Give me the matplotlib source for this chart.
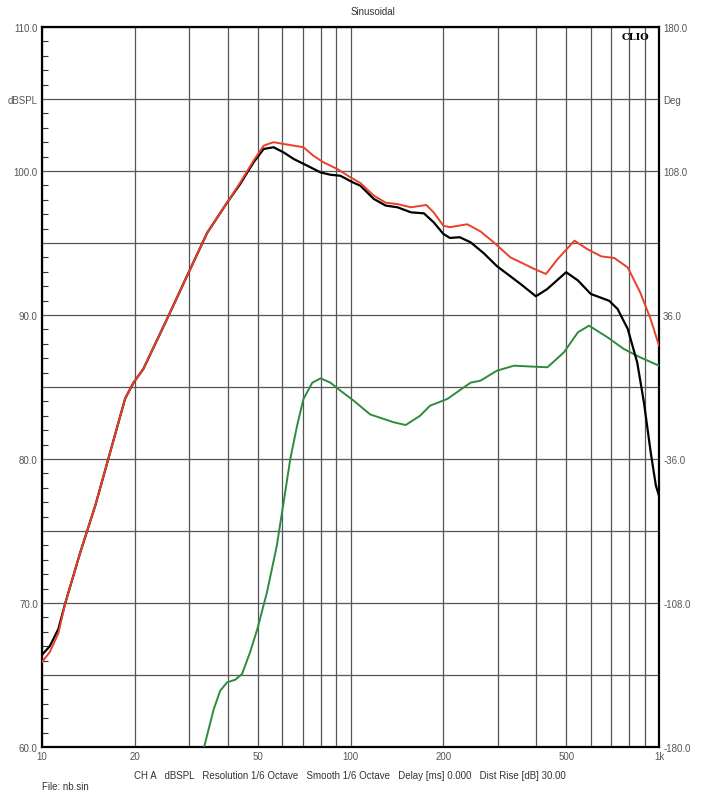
import matplotlib
matplotlib.use("Agg")
import matplotlib.pyplot as plt
from matplotlib.ticker import FixedLocator, NullFormatter

plt.rcParams['font.family'] = ['Liberation Sans', 'DejaVu Sans']

# frequency (Hz) / level (dB SPL)
black_f = [10, 10.6, 11.3, 11.9, 13.3, 14.9, 16.4, 18.6, 19.8, 21.3, 25.4, 29.5, 34.3, 39.8, 43.9,
           48.5, 52.3, 56.3, 60.6, 65.5, 72.4, 80, 86.1, 92.7, 102, 107.6, 119, 130, 142, 157, 173,
           186, 200, 210, 226, 245, 270, 298, 356, 399, 434, 500, 546, 601, 689, 734, 792, 850,
           894, 940, 977, 1000]
black_db = [66.4, 67.0, 68.2, 70.0, 73.5, 76.8, 80.0, 84.2, 85.3, 86.25, 89.7, 92.7, 95.7, 97.8, 99.1,
            100.6, 101.53, 101.65, 101.3, 100.83, 100.37, 99.9, 99.74, 99.67, 99.2, 98.98, 98.06, 97.6, 97.48, 97.13, 97.06,
            96.44, 95.63, 95.35, 95.4, 95.05, 94.3, 93.4, 92.15, 91.3, 91.8, 92.97, 92.4, 91.46, 90.99, 90.42, 89.03, 86.7,
            83.9, 80.46, 78.15, 77.45]

red_f = [10, 10.6, 11.3, 11.9, 13.3, 14.9, 16.4, 18.6, 19.8, 21.3, 25.4, 29.5, 34.3, 39.8, 43.9,
         48.5, 52.3, 56.3, 60.6, 65.5, 70.4, 75.8, 81.8, 90.6, 100, 107.6, 119, 130, 142, 157, 176,
         186, 200, 210, 239, 264, 291, 330, 394, 430, 470, 532, 585, 650, 716, 792, 869, 940, 1000]
red_db = [65.9, 66.6, 67.9, 70.0, 73.5, 76.8, 80.0, 84.2, 85.3, 86.25, 89.7, 92.7, 95.7, 97.8, 99.2,
          100.72, 101.76, 102.0, 101.88, 101.76, 101.65, 101.06, 100.6, 100.14, 99.56, 99.17, 98.29, 97.8, 97.7, 97.48, 97.64,
          97.13, 96.2, 96.1, 96.3, 95.8, 95.05, 94.0, 93.2, 92.85, 93.9, 95.16, 94.58, 94.07, 93.96, 93.3, 91.57, 89.7, 87.87]

green_f = [33.0, 36.0, 37.8, 39.8, 42.3, 44.5, 47.3, 49.9, 53.6, 57.7, 60.7, 63.8, 67.1, 70.4, 75.2,
           80, 86.1, 92.7, 102.4, 115.7, 138, 151, 168, 181, 206, 245, 264, 298, 339, 394, 435, 492,
           546, 593, 681, 769, 869, 1000]
green_db = [59.4, 62.6, 63.9, 64.49, 64.67, 65.07, 66.6, 68.2, 70.74, 73.98, 77.0, 80.0, 82.3, 84.17, 85.3,
            85.6, 85.3, 84.75, 84.05, 83.1, 82.55, 82.36, 83.0, 83.7, 84.17, 85.3, 85.44, 86.13, 86.48, 86.41, 86.37, 87.41,
            88.8, 89.26, 88.45, 87.64, 87.06, 86.48]

grid_f = [10, 20, 30, 40, 50, 60, 70, 80, 90, 100, 200, 300, 400, 500, 600, 700, 800, 900, 1000]
xlabels = {10: '10', 20: '20', 50: '50', 100: '100', 200: '200', 500: '500', 1000: '1k'}
left_ticks = [60, 65, 70, 75, 80, 85, 90, 95, 100, 105, 110]
left_labels = ['60.0', '', '70.0', '', '80.0', '', '90.0', '', '100.0', 'dBSPL', '110.0']
right_ticks = [-180, -108, -36, 36, 108, 144, 180]
right_labels = ['-180.0', '-108.0', '-36.0', '36.0', '108.0', 'Deg', '180.0']

fig = plt.figure(figsize=(7.05, 8.04), dpi=100)
ax = fig.add_axes([42/705, 1-748/804, 617/705, 720/804])

ax.plot(green_f, green_db, color='#2f8a3f', lw=1.4, zorder=3)
ax.plot(black_f, black_db, color='black', lw=1.6, zorder=4)
ax.plot(red_f, red_db, color='#e8402a', lw=1.4, zorder=5)

ax.set_xscale('log')
ax.set_xlim(10, 1000)
ax.set_ylim(60, 110)

tc = '#555555'
ax.xaxis.set_major_locator(FixedLocator(grid_f))
ax.set_xticklabels([xlabels.get(f, '') for f in grid_f])
ax.xaxis.set_minor_formatter(NullFormatter())
ax.xaxis.set_minor_locator(FixedLocator([]))
ax.set_yticks(left_ticks)
ax.set_yticklabels(left_labels)
ax.yaxis.set_minor_locator(FixedLocator([v for v in range(60, 111) if v % 5]))
ax.tick_params(which='major', length=0, labelsize=7, colors=tc, pad=3)
ax.tick_params(axis='y', which='minor', direction='in', length=4, width=0.8,
               left=True, right=True, color='#333333')
ax.grid(True, which='major', color='#555555', lw=0.9)
for s in ax.spines.values():
    s.set_linewidth(1.6)
    s.set_color('black')

ax2 = ax.twinx()
ax2.set_ylim(-180, 180)
ax2.set_yticks(right_ticks)
ax2.set_yticklabels(right_labels)
ax2.tick_params(length=0, labelsize=7, colors=tc, pad=3)
for s in ax2.spines.values():
    s.set_visible(False)

ax.text(0.985, 0.993, 'CLIO', transform=ax.transAxes, ha='right', va='top',
        fontsize=7, fontweight='bold', family='DejaVu Serif')
fig.text(373/705, 1-12/804, 'Sinusoidal', ha='center', va='center', fontsize=7, color='#333333')
fig.text(350/705, 1-776/804,
         'CH A   dBSPL   Resolution 1/6 Octave   Smooth 1/6 Octave   Delay [ms] 0.000   Dist Rise [dB] 30.00',
         ha='center', va='center', fontsize=7, color='#333333')
fig.text(42/705, 1-787/804, 'File: nb.sin', ha='left', va='center', fontsize=7, color='#333333')

fig.savefig('out.png', dpi=100)
